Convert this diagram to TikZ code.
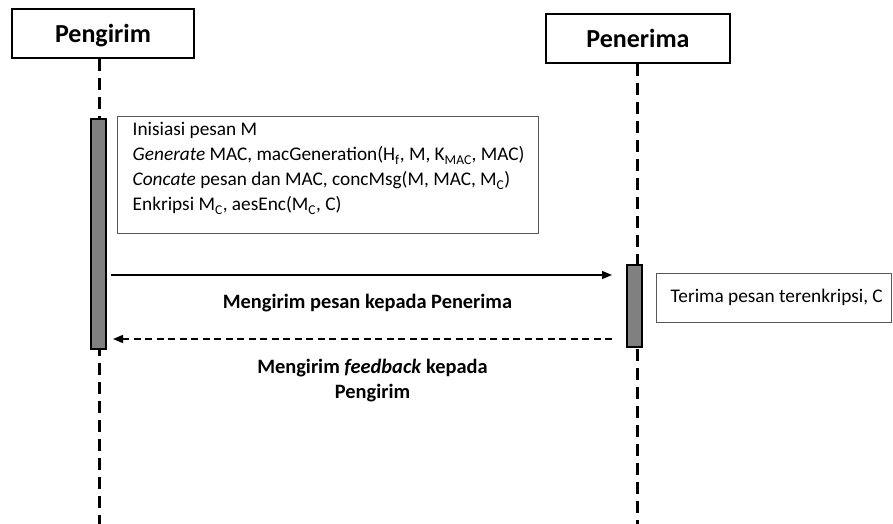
\documentclass[tikz,border=0pt]{standalone}
\usepackage{fontspec}
\setmainfont{Carlito}
\usetikzlibrary{arrows.meta}

\begin{document}
\begin{tikzpicture}[x=1pt,y=-1pt,
    actor/.style={draw=black, line width=2pt, fill=white, font=\fontsize{26}{30}\selectfont\bfseries,
      inner sep=0pt, text height=18pt, text depth=0pt},
    lifeline/.style={line width=3pt, dash pattern=on 12pt off 7pt},
    bar/.style={draw=black, line width=1.5pt, fill=black!50, minimum width=15, inner sep=0pt},
    notebox/.style={draw=black!65, line width=1pt, fill=white, inner sep=0pt},
    notetext/.style={font=\fontsize{19.3}{25}\selectfont, align=left, inner sep=0pt},
    msg/.style={line width=1.5pt, -{Triangle[length=10pt,width=8pt]}},
    reply/.style={msg, dash pattern=on 7pt off 4.5pt},
    msglabel/.style={font=\fontsize{20.4}{25}\selectfont\bfseries, align=center}]
  \useasboundingbox (0,0) rectangle (893,524);

  % Actors
  \node[actor, minimum width=182, minimum height=49] (pengirim) at (103,33.5) {Pengirim};
  \node[actor, minimum width=184, minimum height=49] (penerima) at (638,38.5) {Penerima};

  % Lifelines
  \coordinate (akhirA) at (99,524);
  \coordinate (akhirB) at (637,524);
  \draw[lifeline] (pengirim.south -| akhirA) -- (akhirA);
  \draw[lifeline] (penerima.south -| akhirB) -- (akhirB);

  % Activation bars
  \node[bar, minimum height=230] (barA) at (98.5,234) {};
  \node[bar, minimum height=82] (barB) at (634.5,306) {};

  % Process note of Pengirim
  \node[notebox, minimum width=421, minimum height=116] (proses) at (327.5,175) {};
  \node[notetext, anchor=north west] (prosesteks) at ([xshift=16pt,yshift=-6pt]proses.north west)
    {Inisiasi pesan M\\
     \textit{Generate} MAC, macGeneration(H\textsubscript{f}, M, K\textsubscript{MAC}, MAC)\\
     \textit{Concate} pesan dan MAC, concMsg(M, MAC, M\textsubscript{C})\\
     Enkripsi M\textsubscript{C}, aesEnc(M\textsubscript{C}, C)};

  % Note of Penerima
  \node[notebox, minimum width=235, minimum height=49] (terima) at (773.5,297.5) {};
  \node[notetext, anchor=west] (terimateks) at ([xshift=15pt]terima.west) {Terima pesan terenkripsi, C};

  % Messages
  \coordinate (kirimA) at (111,275);
  \coordinate (kirimB) at (612,275);
  \coordinate (balasB) at (612,339);
  \coordinate (balasA) at (113,339);
  \draw[msg] (kirimA) -- (kirimB);
  \draw[reply] (balasB) -- (balasA);

  % Message labels
  \node[msglabel] (labelkirim) at (367.5,303) {Mengirim pesan kepada Penerima};
  \node[msglabel] (labelbalas) at (372.5,381) {Mengirim \textit{feedback} kepada\\Pengirim};
\end{tikzpicture}
\end{document}
